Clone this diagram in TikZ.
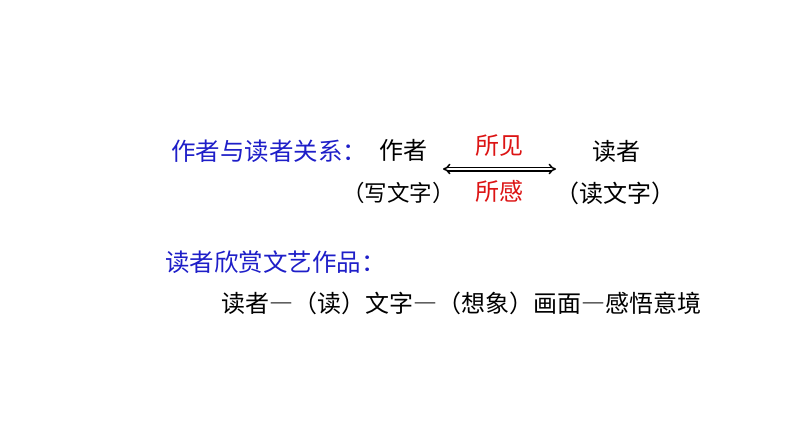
\documentclass[tikz,border=0pt]{standalone}
\usepackage{fontspec}
\usepackage{tikz}
\usetikzlibrary{arrows.meta}
\newfontfamily\cjk[RawFeature={+fwid}]{Noto Sans CJK SC}
\definecolor{bleuT}{RGB}{30, 30, 200}
\definecolor{rougeT}{RGB}{220, 20, 20}
\tikzset{
  titre/.style={font=\cjk\fontsize{24.5}{28}\selectfont, text=bleuT, inner sep=0pt, anchor=west},
  mot/.style={font=\cjk\fontsize{24}{28}\selectfont, inner sep=0pt, anchor=west},
  lien/.style={font=\cjk\fontsize{24}{28}\selectfont, text=rougeT, inner sep=0pt}
}

\begin{document}
\begin{tikzpicture}[x=1pt,y=-1pt]
    \useasboundingbox (0,0) rectangle (794,447);
    \node[titre] (rel) at (171,151) {作者与读者关系：};
    \node[mot] (auteur) at (379,150) {作者};
    \node[mot] (lecteur) at (592,151) {读者};
    \node[mot, font=\cjk\fontsize{22.5}{27}\selectfont] (ecrit) at (342,193) {（写文字）};
    \node[mot] (lit) at (555,193) {（读文字）};
    \node[lien] (vu) at (499,146) {所见};
    \node[lien] (senti) at (499,191) {所感};
  %	double fleche entre les deux
    \coordinate (ga) at (443,169);
    \coordinate (dr) at (556,169);
    \draw[double, double distance=2pt, line width=1.5pt, {Implies}-{Implies}] (ga) -- (dr);
    \node[titre] (lect) at (165,262) {读者欣赏文艺作品：};
    \node[mot] (chaine) at (221,303) {读者—（读）文字—（想象）画面—感悟意境};
  \end{tikzpicture}
\end{document}
